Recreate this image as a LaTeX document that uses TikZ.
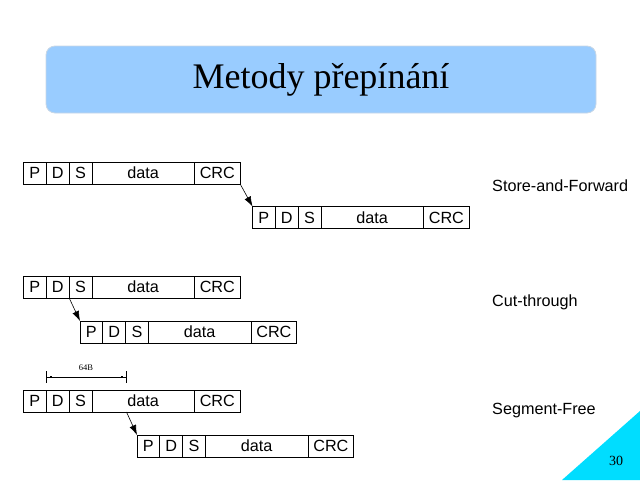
\documentclass[tikz,border=0pt]{standalone}
\usepackage{fontspec}
\setmainfont{Liberation Serif}
\newfontfamily\lsans{Liberation Sans}
\usetikzlibrary{arrows.meta}
\definecolor{titleblue}{RGB}{153,204,255}
\definecolor{titleedge}{RGB}{200,215,230}
\definecolor{cornercyan}{RGB}{0,221,255}
\tikzset{
  cell/.style={draw, line width=0.8pt, rectangle, minimum height=22pt, inner sep=0pt, outer sep=0pt, font=\lsans\fontsize{16.2}{17}\selectfont},
  hop/.style={line width=0.6pt, -{Latex[length=10pt,width=7pt]}},
  method/.style={anchor=west, inner sep=0pt, font=\lsans\fontsize{16.2}{17}\selectfont},
}
\newcommand\pkt[3]{%
  \node[cell, minimum width=22.7pt, anchor=north west] (#1p) at (#2,#3) {P};
  \node[cell, minimum width=23pt, anchor=west] (#1d) at (#1p.east) {D};
  \node[cell, minimum width=22.7pt, anchor=west] (#1s) at (#1d.east) {S};
  \node[cell, minimum width=102.6pt, anchor=west] (#1x) at (#1s.east) {data};
  \node[cell, minimum width=45.7pt, anchor=west] (#1c) at (#1x.east) {CRC};
}
\begin{document}
\begin{tikzpicture}[x=1pt,y=-1pt]
\useasboundingbox (0,0) rectangle (640,480);
% title
\node[draw=titleedge, line width=0.8pt, fill=titleblue, rounded corners=9pt, minimum width=550pt, minimum height=67pt, inner sep=0pt] (title) at (321,79.5) {};
\node[font=\fontsize{36}{36}\selectfont, inner sep=0pt] (titletext) at (title.center) {Metody přepínání};
% corner triangle
\fill[cornercyan] (562,480) -- (640,411) -- (640,480) -- cycle;
\node[font=\fontsize{14}{14}\selectfont, inner sep=0pt] (pagenum) at (616,461) {30};
% store-and-forward
\pkt{a}{23.5}{162}
\pkt{b}{252.5}{206.5}
\draw[hop] (ac.south east) -- (bp.north west);
\node[method] (sf) at (492,186) {Store-and-Forward};
% cut-through
\pkt{c}{23.5}{276}
\pkt{d}{80}{321}
\draw[hop] (cd.south east) -- (dp.north west);
\node[method] (ct) at (492,302) {Cut-through};
% segment-free
\pkt{e}{23.5}{390}
\pkt{f}{137}{435}
\coordinate (b64) at (126.5,412);
\draw[hop] (b64) -- (fp.north west);
\node[method] (sgf) at (492,411) {Segment-Free};
% 64B dimension
\coordinate (dl) at (46.2,377);
\coordinate (dr) at (126.5,377);
\draw[line width=0.7pt] (dl) -- (dr);
\draw[line width=0.7pt] (46.2,371) -- (46.2,383);
\draw[line width=0.7pt] (126.5,371) -- (126.5,383);
\fill (49.5,375.8) rectangle (52,378.2);
\fill (120.8,375.8) rectangle (123.3,378.2);
\node[font=\fontsize{8.5}{9}\selectfont, inner sep=0pt] (lbl64) at (86,368) {64B};
\end{tikzpicture}
\end{document}
